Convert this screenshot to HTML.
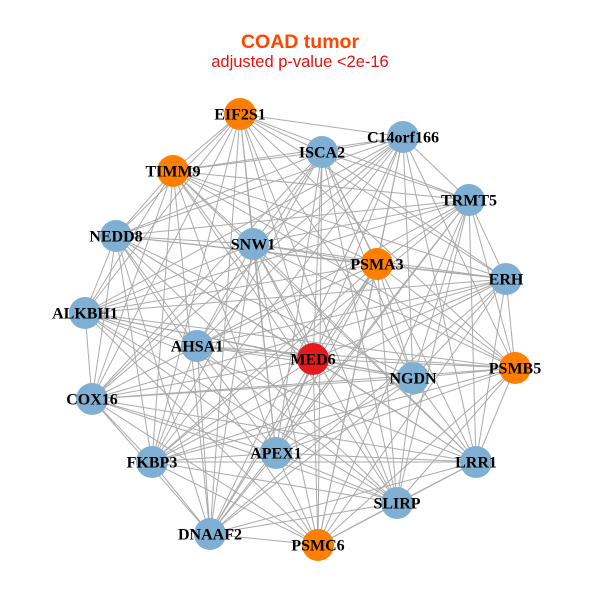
<!DOCTYPE html>
<html><head><meta charset="utf-8"><style>
html,body{margin:0;padding:0;background:#fff;width:600px;height:600px;overflow:hidden}
text{font-family:"Liberation Serif",serif;font-weight:bold;font-size:16px}
</style></head><body>
<svg id="s" width="600" height="600" xmlns="http://www.w3.org/2000/svg">
<rect width="600" height="600" fill="#fff"/>
<text x="300" y="48" text-anchor="middle" style="font-family:'Liberation Sans',sans-serif;font-size:19.5px;font-weight:bold" fill="#FF4500">COAD tumor</text>
<text x="300" y="67" text-anchor="middle" style="font-family:'Liberation Sans',sans-serif;font-size:16.5px;font-weight:normal" fill="#E8110F">adjusted p-value &lt;2e-16</text>
<g id="e" stroke="#aaaaaa" stroke-width="1"></g>
<g id="n"></g>
</svg>
<script>
var N=[["EIF2S1",240,114,"o"],["C14orf166",403,137,"b"],["ISCA2",322,152,"b"],["TIMM9",173,171,"o"],["TRMT5",469,200,"b"],["NEDD8",116,236,"b"],["SNW1",253,244,"b"],["PSMA3",377,264,"o"],["ERH",506,279,"b"],["ALKBH1",85,313,"b"],["AHSA1",197,346,"b"],["MED6",313,359,"r"],["PSMB5",515,368,"o"],["NGDN",413,378,"b"],["COX16",92,399,"b"],["APEX1",276,453,"b"],["FKBP3",152,462,"b"],["LRR1",476,462,"b"],["SLIRP",397,503,"b"],["DNAAF2",210,534,"b"],["PSMC6",318,545,"o"]];
var C={o:"#FF7F00",b:"#7FAFD2",r:"#E41A1C"};
var ns="http://www.w3.org/2000/svg",e=document.getElementById("e"),g=document.getElementById("n");
for(var i=0;i<N.length;i++)for(var j=i+1;j<N.length;j++){
 if((i*7+j*13)%10<2)continue;
 var l=document.createElementNS(ns,"line");
 l.setAttribute("x1",N[i][1]);l.setAttribute("y1",N[i][2]);l.setAttribute("x2",N[j][1]);l.setAttribute("y2",N[j][2]);e.appendChild(l);}
N.forEach(function(d){var c=document.createElementNS(ns,"circle");c.setAttribute("cx",d[1]);c.setAttribute("cy",d[2]);c.setAttribute("r",16);c.setAttribute("fill",C[d[3]]);g.appendChild(c);});
N.forEach(function(d){var t=document.createElementNS(ns,"text");t.setAttribute("x",d[1]);t.setAttribute("y",d[2]+5.5);t.setAttribute("text-anchor","middle");t.textContent=d[0];g.appendChild(t);});
</script>
</body></html>
